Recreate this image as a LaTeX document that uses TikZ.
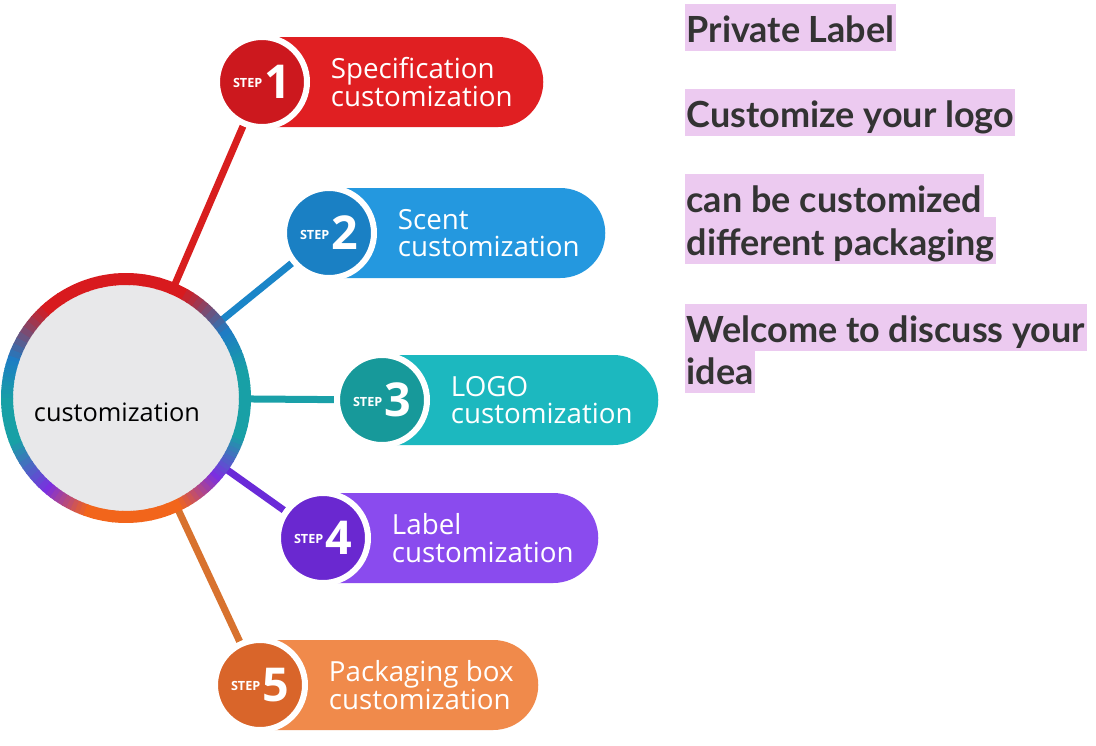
\documentclass[tikz,border=0pt]{standalone}
\usepackage{fontspec}
\setmainfont{Open Sans}
\newfontfamily\notefont{Lato}
\usetikzlibrary{positioning,shapes.misc,shadows,backgrounds}

\definecolor{hubgrey}{HTML}{E8E8EA}
\definecolor{ringred}{HTML}{D81A1E}
\definecolor{ringblue}{HTML}{1E7CC4}
\definecolor{ringteal}{HTML}{18A0A6}
\definecolor{ringpurple}{HTML}{7B2FE0}
\definecolor{ringorange}{HTML}{F2651B}
\definecolor{dotred}{HTML}{CC181E}
\definecolor{pillred}{HTML}{E01F22}
\definecolor{dotblue}{HTML}{1A80C4}
\definecolor{pillblue}{HTML}{2498DF}
\definecolor{dotteal}{HTML}{17999A}
\definecolor{pillteal}{HTML}{1CB8BF}
\definecolor{dotpurple}{HTML}{6A28D0}
\definecolor{pillpurple}{HTML}{8A4BEE}
\definecolor{dotorange}{HTML}{D9652A}
\definecolor{pillorange}{HTML}{F08A4B}
\definecolor{linkred}{HTML}{D81E1E}
\definecolor{linkblue}{HTML}{1A85C8}
\definecolor{linkteal}{HTML}{1AA0A8}
\definecolor{linkpurple}{HTML}{6A2AD8}
\definecolor{linkorange}{HTML}{D8722E}
\definecolor{hilite}{RGB}{236,202,240}
\definecolor{notetext}{HTML}{333333}

\newcommand{\stepno}[1]{\raisebox{8pt}{\fontsize{9.5}{9.5}\selectfont\bfseries STEP}\hspace{1.5pt}{\fontsize{35}{35}\selectfont\bfseries #1}}

\begin{document}
\begin{tikzpicture}[
    x=0.75pt, y=-0.75pt,
    hub/.style ={circle, fill=hubgrey, minimum size=169.5pt, inner sep=0pt,
                 drop shadow={shadow xshift=0.8pt, shadow yshift=-1.5pt,
                              opacity=0.25}},
    ring/.style ={line width=9pt},
    pill/.style ={rounded rectangle, rounded rectangle west arc=none,
                  minimum height=67.5pt, inner sep=0pt, anchor=west},
    stepdot/.style={circle, draw=white, line width=4.5pt, minimum size=67.5pt,
                    inner sep=0pt, text=white},
    steplabel/.style={text=white, align=left, inner sep=0pt,
                      font=\fontsize{20.8}{20.5}\selectfont},
    link/.style ={line width=5.25pt},
    note/.style ={fill=hilite, text=notetext, inner xsep=1pt, inner ysep=0pt,
                  text height=28.5pt, text depth=7pt, anchor=base west,
                  font=\notefont\bfseries\fontsize{27}{27}\selectfont}
  ]
  \useasboundingbox (0,0) rectangle (1096,746);

  % centre circle with its coloured rim
  \node[hub] (hub) at (126,398) {};
  \foreach \a/\b/\ca/\cb in {60/130/ringred/ringred, 130/160/ringred/ringblue,
      160/180/ringblue/ringteal, 180/200/ringteal/ringteal,
      200/228/ringteal/ringpurple, 228/250/ringpurple/ringorange,
      250/295/ringorange/ringorange, 295/318/ringorange/ringpurple,
      318/340/ringpurple/ringteal, 340/372/ringteal/ringteal,
      372/392/ringteal/ringblue, 392/420/ringblue/ringred}{
    \foreach \t in {0,...,9}{
      \pgfmathtruncatemacro\p{100-\t*10}
      \pgfmathsetmacro\s{\a+(\b-\a)*\t/10}
      \pgfmathsetmacro\e{\a+(\b-\a)*(\t+1)/10+0.6}
      \draw[ring, draw=\ca!\p!\cb] (hub.center) ++(-\s:119)
        arc[start angle=-\s, end angle=-\e, radius=119];
    }
  }
  \node[font=\fontsize{19}{20}\selectfont] (hubtext) at (117,412) {customization};

  % steps
  \node[pill, fill=pillred,    minimum width=210.75pt] (p1) at (262,82)  {};
  \node[pill, fill=pillblue,   minimum width=207pt]    (p2) at (329,233) {};
  \node[pill, fill=pillteal,   minimum width=207pt]    (p3) at (382,400) {};
  \node[pill, fill=pillpurple, minimum width=206.25pt] (p4) at (323,538) {};
  \node[pill, fill=pillorange, minimum width=208.5pt]  (p5) at (260,685) {};

  \node[stepdot, fill=dotred]    (c1) at (p1.west) {\stepno{1}};
  \node[stepdot, fill=dotblue]   (c2) at (p2.west) {\stepno{2}};
  \node[stepdot, fill=dotteal]   (c3) at (p3.west) {\stepno{3}};
  \node[stepdot, fill=dotpurple] (c4) at (p4.west) {\stepno{4}};
  \node[stepdot, fill=dotorange] (c5) at (p5.west) {\stepno{5}};

  \node[steplabel, right=15.5pt of c1] (l1) {Specification\\customization};
  \node[steplabel, right=15.5pt of c2] (l2) {Scent\\customization};
  \node[steplabel, right=15.5pt of c3] (l3) {LOGO\\customization};
  \node[steplabel, right=15.5pt of c4] (l4) {Label\\customization};
  \node[steplabel, right=15.5pt of c5] (l5) {Packaging box\\customization};

  \begin{scope}[on background layer]
    \fill[white] (0,0) rectangle (1096,746);
    \draw[link, draw=linkred]    (hub) -- (c1);
    \draw[link, draw=linkblue]   (hub) -- (c2);
    \draw[link, draw=linkteal]   (hub) -- (c3);
    \draw[link, draw=linkpurple] (hub) -- (c4);
    \draw[link, draw=linkorange] (hub) -- (c5);
  \end{scope}

  % highlighted notes
  \node[note] (n1) at (685,42)  {Private Label};
  \node[note] (n2) at (685,127) {Customize your logo};
  \node[note] (n3) at (685,212) {can be customized\hspace{7.5pt}};
  \node[note] (n4) at (685,255) {different packaging};
  \node[note] (n5) at (685,342) {Welcome to discuss your};
  \node[note] (n6) at (685,384) {idea};
\end{tikzpicture}
\end{document}
